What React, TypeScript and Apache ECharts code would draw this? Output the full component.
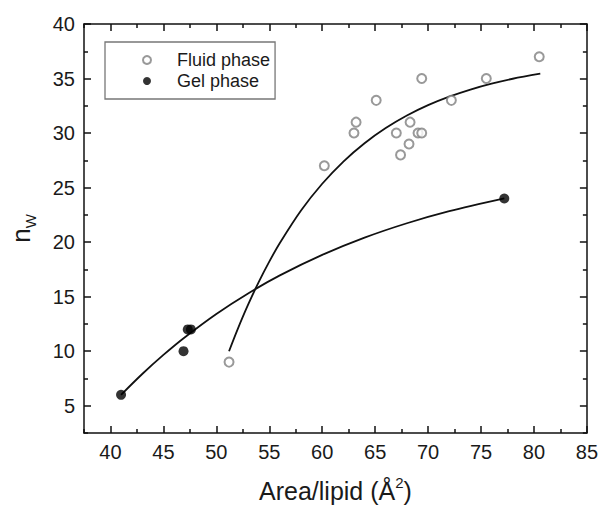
import React, { useEffect, useRef } from "react";
import * as echarts from "echarts";

// Fluid phase (open circles): [area/lipid, n_w]
const fluidPoints: number[][] = [
  [51.2, 9], [60.2, 27], [63.0, 30], [63.2, 31], [65.1, 33], [67.0, 30],
  [67.4, 28], [68.2, 29], [68.3, 31], [69.05, 30], [69.4, 30], [69.4, 35],
  [72.2, 33], [75.5, 35], [80.5, 37],
];
// Gel phase (filled circles)
const gelPoints: number[][] = [
  [41.0, 6], [46.9, 10], [47.3, 12], [47.6, 12], [77.2, 24],
];
// Fitted curves
const fluidFit: number[][] = [
  [51.2, 10.0], [52, 11.98], [53, 14.26], [54, 16.33], [55, 18.21], [56, 19.92],
  [58, 22.9], [60, 25.35], [62, 27.39], [64, 29.07], [66, 30.46], [68, 31.61],
  [70, 32.56], [72, 33.34], [74, 33.99], [76, 34.53], [78, 34.98], [80.6, 35.44],
];
const gelFit: number[][] = [
  [41, 6.0], [43, 7.91], [45, 9.66], [47, 11.26], [50, 13.42], [53, 15.3],
  [56, 16.95], [60, 18.83], [64, 20.41], [68, 21.73], [72, 22.84], [77.2, 24.02],
];
// Ticks
const xMajor = [40, 45, 50, 55, 60, 65, 70, 75, 80, 85];
const xMinor = [37.5, 42.5, 47.5, 52.5, 57.5, 62.5, 67.5, 72.5, 77.5, 82.5];
const yMajor = [5, 10, 15, 20, 25, 30, 35, 40];
const yMinor = [2.5, 7.5, 12.5, 17.5, 22.5, 27.5, 32.5, 37.5];

const FONT = "'Liberation Sans', Arial, Helvetica, sans-serif";
const TXT = "#1a1a1a";

export default function App() {
  const ref = useRef<HTMLDivElement>(null);
  useEffect(() => {
    if (!ref.current) return;
    const chart = echarts.init(ref.current, undefined, { renderer: "svg" });
    const lineStyle = { color: "#111", width: 1.5 };
    const mkX = (position: "top" | "bottom", ticks: number[], len: number, showLine: boolean, label: boolean, name?: any) => ({
      type: "value",
      position,
      min: 37.5,
      max: 85,
      axisLine: { show: showLine, onZero: false, lineStyle },
      axisTick: { show: true, inside: true, length: len, customValues: ticks, lineStyle },
      axisLabel: label
        ? { show: true, customValues: ticks, fontSize: 20, color: TXT, fontFamily: FONT, margin: 9 }
        : { show: false },
      splitLine: { show: false },
      ...(name || {}),
    });
    const mkY = (position: "left" | "right", ticks: number[], len: number, showLine: boolean, label: boolean, name?: any) => ({
      type: "value",
      position,
      min: 2.5,
      max: 40,
      axisLine: { show: showLine, onZero: false, lineStyle },
      axisTick: { show: true, inside: true, length: len, customValues: ticks, lineStyle },
      axisLabel: label
        ? { show: true, customValues: ticks, fontSize: 20, color: TXT, fontFamily: FONT, margin: 9 }
        : { show: false },
      splitLine: { show: false },
      ...(name || {}),
    });
    chart.setOption({
      animation: false,
      backgroundColor: "#fff",
      grid: { left: 77, right: 14, top: 24, bottom: 70 },
      legend: {
        orient: "vertical",
        left: 105,
        top: 42,
        data: ["Fluid phase", "Gel phase"],
        itemWidth: 50,
        itemHeight: 8,
        itemGap: 1,
        padding: [8, 5, 8, 37],
        borderColor: "#777",
        borderWidth: 1.3,
        textStyle: { fontSize: 18, color: TXT, fontFamily: FONT, lineHeight: 20 },
      },
      xAxis: [
        mkX("bottom", xMajor, 7, true, true, {
          name: "{t|Area/lipid (Å}{s|2}{t|)}",
          nameLocation: "middle",
          nameGap: 42,
          nameTextStyle: {
            rich: {
              t: { fontSize: 25, color: TXT, fontFamily: FONT, lineHeight: 28, verticalAlign: "bottom" },
              s: { fontSize: 15, color: TXT, fontFamily: FONT, lineHeight: 15, verticalAlign: "top" },
            },
          },
        }),
        mkX("bottom", xMinor, 4, false, false),
        mkX("top", xMajor, 7, true, false),
        mkX("top", xMinor, 4, false, false),
      ],
      yAxis: [
        mkY("left", yMajor, 7, true, true, {
          name: "{n|n}{w|W}",
          nameLocation: "middle",
          nameGap: 46,
          nameTextStyle: {
            rich: {
              n: { fontSize: 26, color: TXT, fontFamily: FONT, lineHeight: 30, verticalAlign: "top" },
              w: { fontSize: 15, color: TXT, fontFamily: FONT, lineHeight: 15, verticalAlign: "bottom" },
            },
          },
        }),
        mkY("left", yMinor, 4, false, false),
        mkY("right", yMajor, 7, true, false),
        mkY("right", yMinor, 4, false, false),
      ],
      series: [
        {
          name: "fluid fit",
          type: "line",
          data: fluidFit,
          smooth: 0.3,
          showSymbol: false,
          lineStyle: { color: "#111", width: 1.8 },
          silent: true,
          z: 1,
        },
        {
          name: "gel fit",
          type: "line",
          data: gelFit,
          smooth: 0.3,
          showSymbol: false,
          lineStyle: { color: "#111", width: 1.8 },
          silent: true,
          z: 1,
        },
        {
          name: "Fluid phase",
          type: "scatter",
          data: fluidPoints,
          symbol: "emptyCircle",
          symbolSize: 9,
          itemStyle: { color: "#808080", borderWidth: 1.3 },
          z: 3,
        },
        {
          name: "Gel phase",
          type: "scatter",
          data: gelPoints,
          symbol: "circle",
          symbolSize: 10,
          itemStyle: { color: "#000" },
          z: 3,
        },
      ],
    });
    return () => chart.dispose();
  }, []);
  return (
    <div
      ref={ref}
      style={{ position: "fixed", left: 0, top: 0, width: 601, height: 508, background: "#fff" }}
    />
  );
}
